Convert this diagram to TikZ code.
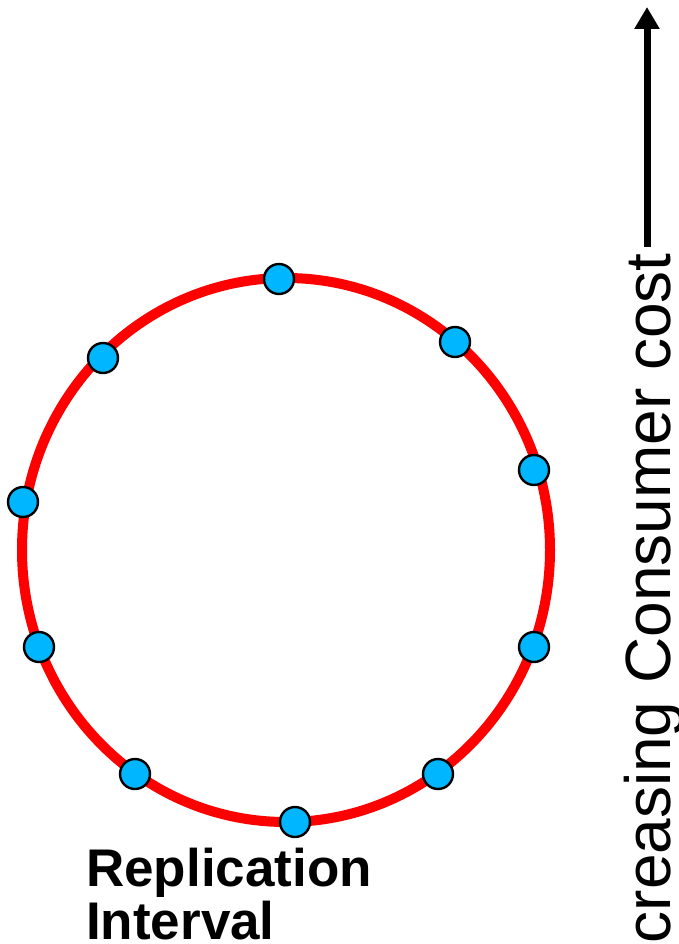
\documentclass[tikz,border=0pt]{standalone}
\usepackage{fontspec}
\setmainfont{Liberation Sans}
\usetikzlibrary{arrows.meta}
\definecolor{ringred}{RGB}{255,0,0}
\definecolor{dotblue}{RGB}{0,182,255}
\tikzset{
  ring/.style={draw=ringred, line width=10pt},
  dotnode/.style={circle, draw=black, line width=2.4pt, fill=dotblue, inner sep=0pt, minimum size=30pt},
  labeltext/.style={font=\bfseries\fontsize{53}{56}\selectfont, inner sep=0pt},
  axistext/.style={font=\fontsize{64}{70}\selectfont, inner sep=0pt, rotate=90},
  axisarrow/.style={line width=7pt, -{Triangle[length=22pt,width=24pt]}}
}
\begin{document}
\begin{tikzpicture}[x=1pt,y=-1pt]
\useasboundingbox (0,0) rectangle (679,944);
\clip (0,0) rectangle (679,944);
\draw[ring] (286,550) ellipse [x radius=264, y radius=272];
\node[dotnode] (d1) at (279,279) {};
\node[dotnode] (d2) at (455,342) {};
\node[dotnode] (d3) at (534,470) {};
\node[dotnode] (d4) at (534,647) {};
\node[dotnode] (d5) at (438,774) {};
\node[dotnode] (d6) at (295,822) {};
\node[dotnode] (d7) at (135,774) {};
\node[dotnode] (d8) at (39,647) {};
\node[dotnode] (d9) at (23,502) {};
\node[dotnode] (d10) at (103,358) {};
\node[labeltext, anchor=base west] (rep1) at (86,886) {Replication};
\node[labeltext, anchor=base west] (rep2) at (86,939) {Interval};
\node[axistext, anchor=base east] (axis) at (670,253) {creasing Consumer cost};
\coordinate (arrowstart) at (647,247);
\coordinate (arrowend) at (647,7);
\draw[axisarrow] (arrowstart) -- (arrowend);
\end{tikzpicture}
\end{document}
